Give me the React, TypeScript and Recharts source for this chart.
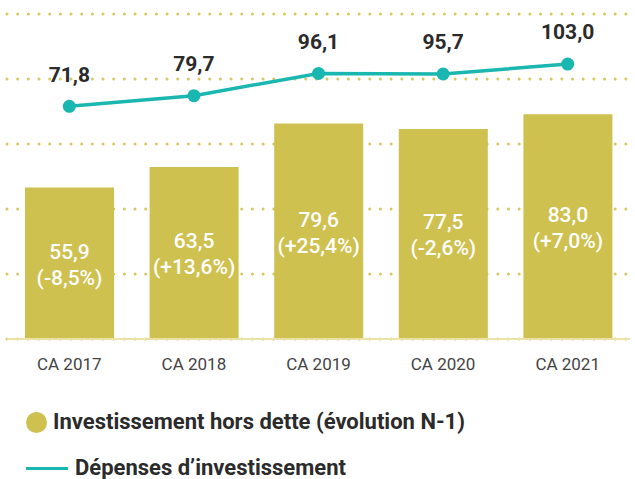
import {
  Bar,
  CartesianGrid,
  ComposedChart,
  LabelList,
  Line,
  XAxis,
  YAxis,
} from "recharts";

const categories = ["CA 2017", "CA 2018", "CA 2019", "CA 2020", "CA 2021"];
const investHorsDette = [55.9, 63.5, 79.6, 77.5, 83.0];
const evolution = ["-8,5%", "+13,6%", "+25,4%", "-2,6%", "+7,0%"];
const depenses = [71.8, 79.7, 96.1, 95.7, 103.0];
const barTicks = [24, 48, 72, 96, 120];

const OLIVE = "#cfc14f";
const TEAL = "#19b7b0";
const INK = "#2b2b2b";
const FONT = "Roboto, sans-serif";

const data = categories.map((name, i) => ({
  name,
  invest: investHorsDette[i],
  depenses: depenses[i],
}));

const fmt = (v: number) => v.toFixed(1).replace(".", ",");

function DottedLine(props: any) {
  const { x1, x2, y1, y2 } = props;
  return (
    <line
      x1={x1}
      x2={x2 + 6}
      y1={y1}
      y2={y2}
      stroke="#d6c863"
      strokeWidth={3}
      strokeDasharray="0 10.67"
      strokeLinecap="round"
    />
  );
}

function BarValueLabel(props: any) {
  const { x, y, width, height, index } = props;
  const cx = x + width / 2;
  const cy = y + height / 2 + 1;
  return (
    <text textAnchor="middle" fill="#fff" fontSize={21} fontWeight={500} fontFamily={FONT}>
      <tspan x={cx} y={cy - 13} dy="0.35em">
        {fmt(investHorsDette[index])}
      </tspan>
      <tspan x={cx} y={cy + 13} dy="0.35em">
        ({evolution[index]})
      </tspan>
    </text>
  );
}

function LineValueLabel(props: any) {
  const { x, y, value } = props;
  return (
    <text
      x={x}
      y={y - 32}
      dy="0.35em"
      textAnchor="middle"
      fill={INK}
      fontSize={21}
      fontWeight={700}
      fontFamily={FONT}
    >
      {fmt(value)}
    </text>
  );
}

export default function App() {
  return (
    <div
      style={{
        position: "absolute",
        left: 0,
        top: 0,
        width: 635,
        height: 479,
        background: "#fff",
        fontFamily: FONT,
      }}
    >
      <ComposedChart
        width={635}
        height={390}
        data={data}
        margin={{ top: 14, right: 5, bottom: 11, left: 7 }}
      >
        <CartesianGrid vertical={false} yAxisId="bars" horizontal={DottedLine} />
        <XAxis
          dataKey="name"
          height={40}
          tickLine={false}
          tickMargin={13}
          axisLine={{ stroke: "#ebe2a8", strokeWidth: 2 }}
          tick={{ fontSize: 17, fill: "#444", fontFamily: FONT }}
        />
        <YAxis yAxisId="bars" hide domain={[0, 120]} ticks={barTicks} />
        <YAxis yAxisId="line" hide domain={[-100, 140]} />
        <Bar
          yAxisId="bars"
          dataKey="invest"
          fill={OLIVE}
          barSize={89}
          isAnimationActive={false}
        >
          <LabelList dataKey="invest" content={BarValueLabel} />
        </Bar>
        <Line
          yAxisId="line"
          dataKey="depenses"
          stroke={TEAL}
          strokeWidth={3.5}
          dot={{ r: 6.5, fill: TEAL, stroke: TEAL, strokeWidth: 0 }}
          activeDot={false}
          isAnimationActive={false}
        >
          <LabelList dataKey="depenses" content={LineValueLabel} />
        </Line>
      </ComposedChart>
      <div
        style={{
          position: "absolute",
          left: 0,
          top: 405,
          color: INK,
          fontWeight: 700,
          fontSize: 22,
          lineHeight: "24px",
        }}
      >
        <div style={{ display: "flex", alignItems: "center", height: 34 }}>
          <span
            style={{
              display: "inline-block",
              width: 21,
              height: 21,
              borderRadius: "50%",
              background: OLIVE,
              marginLeft: 26,
              marginRight: 6,
            }}
          />
          <span>Investissement hors dette (évolution N-1)</span>
        </div>
        <div style={{ display: "flex", alignItems: "center", height: 34, marginTop: 12 }}>
          <span
            style={{
              display: "inline-block",
              width: 42,
              height: 3,
              background: TEAL,
              marginLeft: 26,
              marginRight: 7,
            }}
          />
          <span>Dépenses d’investissement</span>
        </div>
      </div>
    </div>
  );
}
